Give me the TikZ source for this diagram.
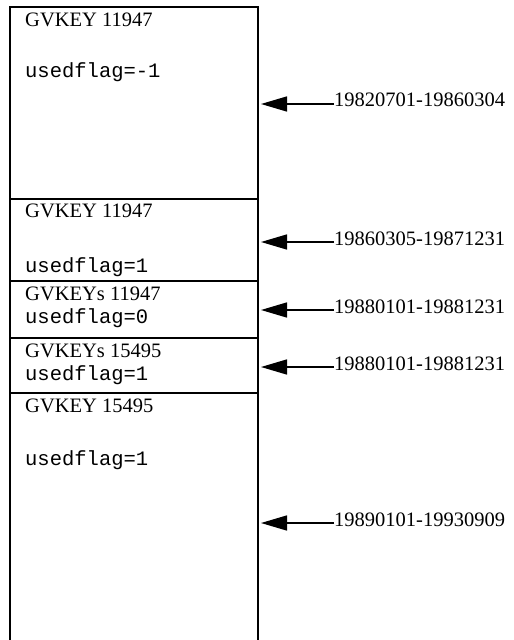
\documentclass[tikz,border=0pt]{standalone}
\usepackage{fontspec}
\setmainfont{Liberation Serif}
\setmonofont{Liberation Mono}
\usetikzlibrary{arrows.meta}

\begin{document}
\begin{tikzpicture}[x=1bp, y=-1bp,
  key/.style={anchor=base west, inner sep=0pt, font=\fontsize{20.5bp}{24bp}\selectfont},
  flag/.style={key, font=\fontsize{20.5bp}{24bp}\selectfont\ttfamily},
  date/.style={anchor=west, inner sep=0pt, text height=9bp, text depth=3bp, font=\fontsize{20.5bp}{24bp}\selectfont},
  arr/.style={-{Triangle[length=26bp,width=15bp]}, line width=1.5bp}]
\useasboundingbox (0,0) rectangle (514,640);

% the column of records
\draw[line width=2bp] (10,640) -- (10,7) -- (258,7) -- (258,640);
\draw[line width=2bp] (10,199) -- (258,199);
\draw[line width=2bp] (10,281) -- (258,281);
\draw[line width=2bp] (10,338) -- (258,338);
\draw[line width=2bp] (10,393) -- (258,393);

\node[key] (g1) at (25,27) {GVKEY 11947};
\node[flag] (f1) at (25,78) {usedflag=-1};
\node[key] (g2) at (25,217) {GVKEY 11947};
\node[flag] (f2) at (25,272) {usedflag=1};
\node[key] (g3) at (25,300) {GVKEYs 11947};
\node[flag] (f3) at (25,323) {usedflag=0};
\node[key] (g4) at (25,357) {GVKEYs 15495};
\node[flag] (f4) at (25,380) {usedflag=1};
\node[key] (g5) at (25,412) {GVKEY 15495};
\node[flag] (f5) at (25,465) {usedflag=1};

% date ranges
\coordinate (edge) at (261,0);
\node[date] (d1) at (334,104) {19820701-19860304};
\node[date] (d2) at (334,242) {19860305-19871231};
\node[date] (d3) at (334,310) {19880101-19881231};
\node[date] (d4) at (334,367) {19880101-19881231};
\node[date] (d5) at (334,523) {19890101-19930909};

\draw[arr] (d1.west) -- (d1.west -| edge);
\draw[arr] (d2.west) -- (d2.west -| edge);
\draw[arr] (d3.west) -- (d3.west -| edge);
\draw[arr] (d4.west) -- (d4.west -| edge);
\draw[arr] (d5.west) -- (d5.west -| edge);
\end{tikzpicture}
\end{document}
